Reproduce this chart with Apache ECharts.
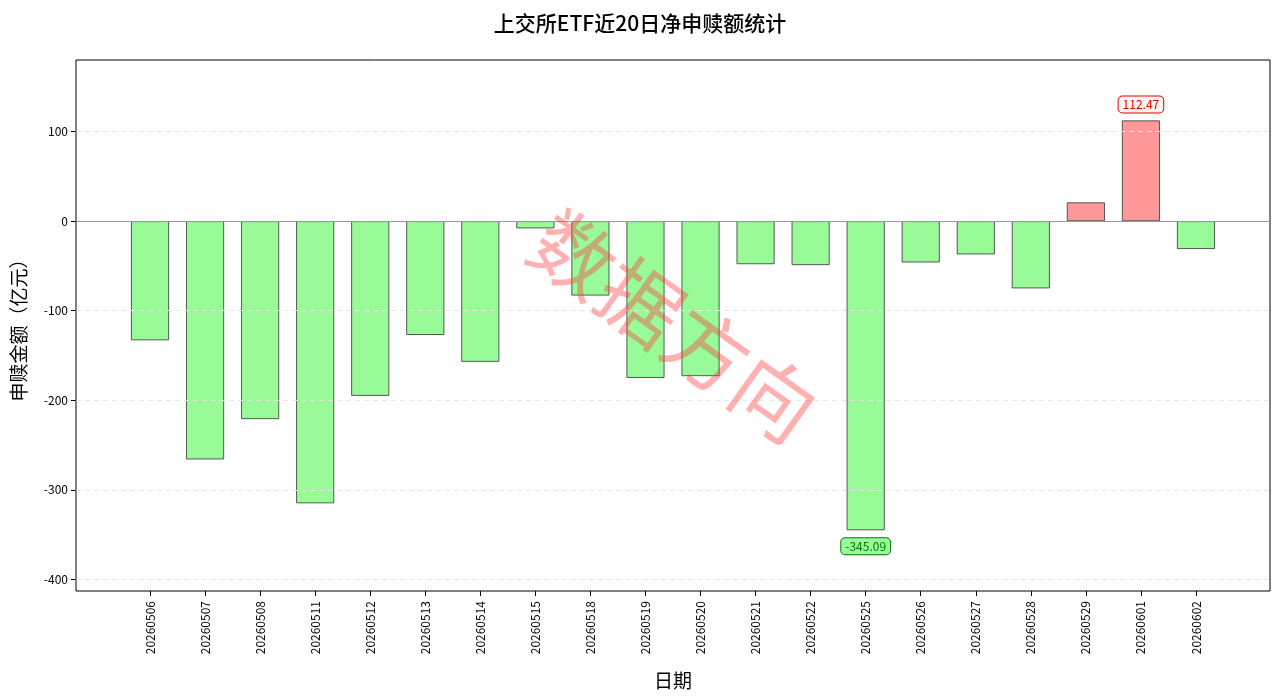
<!DOCTYPE html><html><head><meta charset="utf-8">
<script src="https://cdn.jsdelivr.net/npm/echarts@6/dist/echarts.min.js"></script>
<style>html,body{margin:0;padding:0;background:#fff}#c{width:1280px;height:696px}</style></head><body>
<div id="c"></div>
<script>
const categories=['20260506','20260507','20260508','20260511','20260512','20260513','20260514','20260515','20260518','20260519','20260520','20260521','20260522','20260525','20260526','20260527','20260528','20260529','20260601','20260602'];
const values=[-133,-266,-221,-315,-195,-127,-157,-8,-83,-175,-173,-48,-49,-345.09,-46,-37,-75,21,112.47,-31];
const yTicks=[-400,-300,-200,-100,0,100];
const F='"Noto Sans CJK SC", sans-serif';
const YMIN=-413, YMAX=180;
const maxI=values.indexOf(Math.max(...values)), minI=values.indexOf(Math.min(...values));
const data=values.map((v,i)=>{
  const pos=v>=0;
  const d={value:v,itemStyle:{color:pos?'#FF9999':'#98FB98',borderColor:'#333',borderWidth:0.8}};
  if(i===maxI||i===minI){
    const c=pos?'#e00000':'#007a00';
    d.label={show:true,position:pos?'top':'bottom',distance:8,formatter:v.toFixed(2),color:c,fontFamily:F,fontSize:12,
      backgroundColor:pos?'#fff5f5':'#98FB98',borderColor:c,borderWidth:1,borderRadius:4,padding:[2,4]};
  }
  return d;
});
const chart=echarts.init(document.getElementById('c'));
chart.setOption({
  animation:false,
  title:{text:'上交所ETF近20日净申赎额统计',left:'center',top:8,textStyle:{fontFamily:F,fontSize:21,fontWeight:500,color:'#000'}},
  grid:[{left:122.5,right:56.5,top:60,bottom:105},{left:76,right:10,top:60,bottom:105,show:true,borderColor:'#000',borderWidth:1}],
  xAxis:[
    {type:'category',gridIndex:0,data:categories,axisLine:{show:false,onZero:false},axisTick:{show:true,lineStyle:{color:'#000'},alignWithLabel:true},
     axisLabel:{rotate:90,fontFamily:F,fontSize:12,color:'#000',margin:10},
     name:'日期',nameLocation:'middle',nameGap:80,nameTextStyle:{fontFamily:F,fontSize:19,color:'#000'}},
    {type:'value',gridIndex:1,show:false,min:0,max:1}
  ],
  yAxis:[
    {type:'value',gridIndex:0,min:YMIN,max:YMAX,show:false},
    {type:'value',gridIndex:1,min:YMIN,max:YMAX,interval:100,axisLine:{show:false},
     axisLabel:{fontFamily:F,fontSize:12,color:'#000',customValues:yTicks},axisTick:{show:true,customValues:yTicks,lineStyle:{color:'#000'}},
     splitLine:{show:false},
     name:'申赎金额（亿元）',nameLocation:'middle',nameGap:48,nameTextStyle:{fontFamily:F,fontSize:19,color:'#000'}}
  ],
  series:[
    {type:'line',xAxisIndex:1,yAxisIndex:1,data:[],silent:true,
     markLine:{symbol:'none',silent:true,label:{show:false},
       data:[...yTicks.filter(t=>t!==0).map(t=>({yAxis:t,lineStyle:{color:'#e6e6e6',type:[5,4],width:1}})),{yAxis:0,lineStyle:{color:'#999',type:'solid',width:1}}]}},
    {type:'bar',xAxisIndex:0,yAxisIndex:0,data:data,barWidth:38,z:3}
  ],
  graphic:[{type:'text',x:674,y:326,rotation:-0.62,z:10,
    style:{text:'数据方向',fontFamily:F,fontSize:82,fill:'rgba(255,60,60,0.4)',align:'center',verticalAlign:'middle'}}]
});
</script></body></html>
